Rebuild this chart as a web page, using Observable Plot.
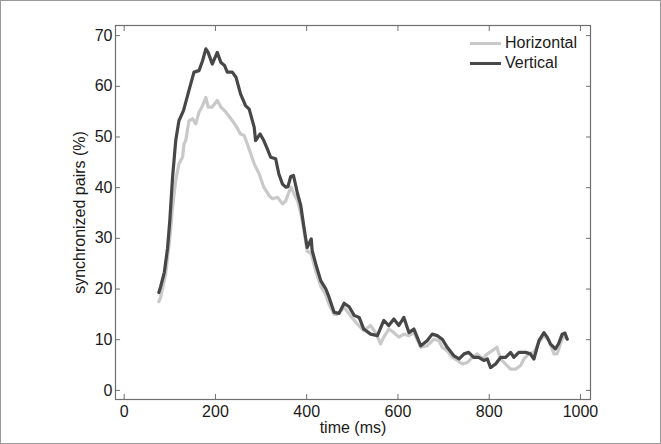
<!DOCTYPE html>
<html>
<head>
<meta charset="utf-8">
<script src="https://cdn.jsdelivr.net/npm/d3@7"></script>
<script src="https://cdn.jsdelivr.net/npm/@observablehq/plot@0.6"></script>
<style>
  html, body { margin: 0; padding: 0; background: #fff; }
  #wrap { position: relative; width: 661px; height: 444px; overflow: hidden; font-family: "Liberation Sans", Arial, sans-serif; }
  #border { position: absolute; left: 0; top: 0; width: 661px; height: 444px; box-sizing: border-box; border: 1px solid #9a9a9a; pointer-events: none; }
  #legend { position: absolute; left: 470px; top: 33px; font-size: 16px; color: #1a1a1a; line-height: 20px; }
  #legend .row { display: flex; align-items: center; }
  #legend .sw { width: 31px; height: 3px; margin-right: 4px; }
</style>
</head>
<body>
<div id="wrap">
  <div id="chart"></div>
  <div id="legend">
    <div class="row"><div class="sw" style="background:#c9c9c9"></div><span>Horizontal</span></div>
    <div class="row"><div class="sw" style="background:#474747"></div><span>Vertical</span></div>
  </div>
  <div id="border"></div>
</div>
<script>
// Vertical (dark) series
const vertTime = [76,80,88,95,100,106,113,120,130,142,153,164,172,179,184,193,204,212,220,226,237,245,255,266,274,285,288,298,306,314,321,332,339,347,354,359,365,371,380,387,394,401,410,412,420,431,442,449,460,471,482,493,504,515,525,540,555,569,580,591,602,613,624,635,650,664,675,686,697,708,723,734,745,755,766,777,788,796,803,814,825,836,847,854,865,880,890,898,909,920,927,934,945,952,960,966,971];
const vertValues = [19.3,20.5,23.3,28,33.5,42,49.3,53.2,55.2,59.2,62.8,63.1,65.1,67.4,66.7,64.4,66.7,64.7,64.1,62.8,62.8,61.8,58.5,56.2,55.5,51.9,49.3,50.6,49.3,47.6,46,45.7,42.7,40.7,40.1,40.2,42.2,42.4,38.8,36.5,32.2,28.2,29.9,27.6,24.9,21.6,20,18.4,15.4,15.2,17.2,16.5,14.8,14.4,12.1,11.1,10.8,13.8,12.8,14.1,12.8,14.4,11.4,12.1,8.8,9.8,11.1,10.8,10.1,8.5,6.8,6.2,7.2,7.5,6.5,6.5,5.9,6.2,4.5,5.2,6.5,6.5,7.5,6.5,7.5,7.5,7.2,6.2,9.8,11.4,10.5,9.2,8.2,9.2,11.1,11.3,10.1];

// Horizontal (light) series
const horizTime = [76,80,91,100,106,113,120,128,131,135,142,150,157,164,172,179,184,193,204,212,223,234,245,255,263,270,285,296,306,318,325,336,347,354,361,366,372,380,387,394,401,410,420,431,441,449,460,467,482,496,511,525,540,551,562,569,580,591,602,613,624,635,650,664,679,690,697,708,719,730,741,752,763,774,785,796,806,817,825,836,847,858,869,876,887,898,909,920,931,942,949,956,963,971];
const horizValues = [17.5,18.4,23,30,36.1,41.4,44.7,46,48.6,49.3,53.2,53.6,52.6,54.9,56.2,57.8,55.9,55.9,57.2,55.9,54.9,53.6,52.2,50.6,50.3,48.6,44.7,42.7,40.1,38.4,37.8,38.1,36.8,37.4,39.1,40.1,38.8,37.4,35,31.5,27.5,27,23.5,20.5,19,17,15,15,16.4,14.7,13.1,11.8,12.8,11.4,9.2,10.5,12.1,11.4,10.5,11.1,10.8,11.4,8.5,8.8,10.1,9.8,8.5,7.8,6.5,5.9,5.2,5.5,6.5,7.2,6.2,7.2,7.8,8.5,6.2,5.2,4.2,4.2,4.9,6.2,7.2,7.5,9.5,10.8,9.8,7.2,7.2,9.2,10.8,10.1];

const xTicks = [0, 200, 400, 600, 800, 1000];
const yTicks = [0, 10, 20, 30, 40, 50, 60, 70];

const vert = vertTime.map((t, i) => ({t, v: vertValues[i]}));
const horiz = horizTime.map((t, i) => ({t, v: horizValues[i]}));

const axisColor = "#6f6f6f";
const chart = Plot.plot({
  width: 661,
  height: 444,
  marginLeft: 115,
  marginRight: 71,
  marginTop: 25,
  marginBottom: 45,
  style: {fontFamily: "'Liberation Sans', Arial, sans-serif", fontSize: "16px", color: "#1a1a1a", background: "transparent"},
  x: {domain: [-19, 1022], ticks: xTicks},
  y: {domain: [-1.8, 72], ticks: yTicks},
  marks: [
    Plot.frame({stroke: axisColor, strokeWidth: 1.2}),
    Plot.axisX({ticks: xTicks, anchor: "bottom", tickSize: -5, tickPadding: 11, tickFormat: d => String(d), stroke: axisColor, fill: "#1a1a1a", label: "time (ms)", labelAnchor: "center", labelOffset: 33, labelArrow: false, fontSize: 16}),
    Plot.axisX({ticks: xTicks, anchor: "top", tickSize: -5, tickFormat: () => "", stroke: axisColor, label: null}),
    Plot.axisY({ticks: yTicks, anchor: "left", tickSize: -5, tickPadding: 8, stroke: axisColor, fill: "#1a1a1a", label: "synchronized pairs (%)", labelAnchor: "center", labelOffset: 42, labelArrow: false, fontSize: 16}),
    Plot.axisY({ticks: yTicks, anchor: "right", tickSize: -5, tickFormat: () => "", stroke: axisColor, label: null}),
    Plot.line(horiz, {x: "t", y: "v", stroke: "#c9c9c9", strokeWidth: 3.2, strokeLinejoin: "round"}),
    Plot.line(vert, {x: "t", y: "v", stroke: "#474747", strokeWidth: 3.2, strokeLinejoin: "round"})
  ]
});
document.getElementById("chart").appendChild(chart);
</script>
</body>
</html>
